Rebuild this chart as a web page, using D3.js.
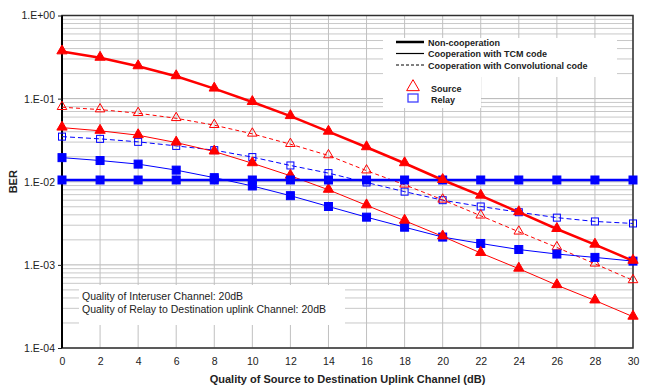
<!DOCTYPE html>
<html>
<head>
<meta charset="utf-8">
<script src="https://cdn.jsdelivr.net/npm/d3@7"></script>
<style>
  body { margin: 0; background: #fff; }
  text { font-family: "Liberation Sans", Arial, sans-serif; }
</style>
</head>
<body>
<script>
// data
var snr = [0, 2, 4, 6, 8, 10, 12, 14, 16, 18, 20, 22, 24, 26, 28, 30];
var xTicks = [0, 2, 4, 6, 8, 10, 12, 14, 16, 18, 20, 22, 24, 26, 28, 30];
var yTicks = [1, 0.1, 0.01, 0.001, 0.0001];
var yTickLabels = ["1.E+00", "1.E-01", "1.E-02", "1.E-03", "1.E-04"];

var srcNonCoop = [0.37, 0.31, 0.245, 0.186, 0.132, 0.091, 0.0616, 0.040, 0.026, 0.0167, 0.0105, 0.0068, 0.0043, 0.0027, 0.00175, 0.00112];
var relNonCoop = [0.0105, 0.0105, 0.0105, 0.0105, 0.0105, 0.0105, 0.0105, 0.0105, 0.0105, 0.0105, 0.0105, 0.0105, 0.0105, 0.0105, 0.0105, 0.0105];
var srcTcm = [0.0448, 0.041, 0.0363, 0.0296, 0.0231, 0.0167, 0.0118, 0.0080, 0.0052, 0.0034, 0.0022, 0.00139, 0.0009, 0.00057, 0.000373, 0.000238];
var relTcm = [0.0195, 0.018, 0.0163, 0.0138, 0.0112, 0.0089, 0.0068, 0.00504, 0.00375, 0.00284, 0.00216, 0.00181, 0.00153, 0.00135, 0.00123, 0.00111];
var srcConv = [0.0788, 0.0738, 0.0667, 0.058, 0.0479, 0.0377, 0.0283, 0.0207, 0.0136, 0.0092, 0.00606, 0.0039, 0.0025, 0.00162, 0.00103, 0.00065];
var relConv = [0.0349, 0.0328, 0.0302, 0.027, 0.024, 0.0198, 0.0157, 0.0127, 0.0098, 0.0076, 0.0060, 0.00504, 0.0043, 0.0037, 0.00333, 0.00315];

var lineLabels = ["Non-cooperation", "Cooperation with TCM code", "Cooperation with Convolutional code"];
var markerLabels = ["Source", "Relay"];
var noteLines = ["Quality of Interuser Channel: 20dB", "Quality of Relay to Destination uplink Channel: 20dB"];

var W = 651, H = 385;
var margin = {left: 62, right: 18, top: 15.5, bottom: 37};

var svg = d3.select("body").append("svg")
	.attr("width", W)
	.attr("height", H);

var x = d3.scaleLinear().domain([0, 30]).range([margin.left, W - margin.right]);
var y = d3.scaleLog().domain([1e-4, 1]).range([H - margin.bottom, margin.top]);

// grid
var grid = svg.append("g");
var minor = [];
for (var e = -4; e < 0; e++)
{
	for (var m = 2; m <= 9; m++) { minor.push(m * Math.pow(10, e)); }
}
grid.selectAll("line.hm")
	.data(minor).enter().append("line")
	.attr("x1", x(0)).attr("x2", x(30))
	.attr("y1", function (d) { return y(d); })
	.attr("y2", function (d) { return y(d); })
	.attr("stroke", "#c8c8c8").attr("stroke-width", 1);
grid.selectAll("line.hM")
	.data(yTicks).enter().append("line")
	.attr("x1", x(0)).attr("x2", x(30))
	.attr("y1", function (d) { return y(d); })
	.attr("y2", function (d) { return y(d); })
	.attr("stroke", "#b4b4b4").attr("stroke-width", 1);
grid.selectAll("line.v")
	.data(xTicks).enter().append("line")
	.attr("x1", function (d) { return x(d); })
	.attr("x2", function (d) { return x(d); })
	.attr("y1", y(1)).attr("y2", y(1e-4))
	.attr("stroke", "#c0c0c0").attr("stroke-width", 1);

// white boxes behind legend and note
svg.append("rect").attr("x", 383).attr("y", 38).attr("width", 234).attr("height", 39).attr("fill", "#fff");
svg.append("rect").attr("x", 383).attr("y", 77).attr("width", 98).attr("height", 31).attr("fill", "#fff");
svg.append("rect").attr("x", 79).attr("y", 285).attr("width", 266).attr("height", 40).attr("fill", "#fff");

// frame
svg.append("rect")
	.attr("x", x(0)).attr("y", y(1))
	.attr("width", x(30) - x(0)).attr("height", y(1e-4) - y(1))
	.attr("fill", "none").attr("stroke", "#303030").attr("stroke-width", 1.5);
svg.append("line")
	.attr("x1", x(0)).attr("x2", x(0)).attr("y1", y(1)).attr("y2", y(1e-4))
	.attr("stroke", "#000").attr("stroke-width", 2);

// axes
var yAxis = d3.axisLeft(y)
	.tickValues(yTicks)
	.tickFormat(function (d, i) { return yTickLabels[i]; })
	.tickSize(4).tickPadding(3);
var gy = svg.append("g").attr("transform", "translate(" + x(0) + ",0)").call(yAxis);
gy.select(".domain").remove();
gy.selectAll("text").attr("font-size", 10.5).attr("fill", "#222").attr("font-family", "Liberation Sans, Arial, sans-serif");
gy.selectAll("line").attr("stroke", "#222");

var xAxis = d3.axisBottom(x).tickValues(xTicks).tickSize(0).tickPadding(10);
var gx = svg.append("g").attr("transform", "translate(0," + y(1e-4) + ")").call(xAxis);
gx.select(".domain").remove();
gx.selectAll("text").attr("font-size", 10.5).attr("fill", "#222").attr("font-family", "Liberation Sans, Arial, sans-serif");

svg.append("text")
	.attr("x", (x(0) + x(30)) / 2).attr("y", 383)
	.attr("text-anchor", "middle")
	.attr("font-size", 11).attr("font-weight", "bold").attr("fill", "#222")
	.text("Quality of Source to Destination Uplink Channel (dB)");
svg.append("text")
	.attr("transform", "translate(17," + y(0.01) + ") rotate(-90)")
	.attr("text-anchor", "middle")
	.attr("font-size", 11).attr("font-weight", "bold").attr("fill", "#222")
	.text("BER");

// series
var series = [
	{vals: relConv, color: "#0000ff", width: 1, dash: "5,3", marker: "square", open: true},
	{vals: srcConv, color: "#ff0000", width: 1, dash: "4,3", marker: "triangle", open: true},
	{vals: relTcm, color: "#0000ff", width: 1, dash: null, marker: "square", open: false},
	{vals: srcTcm, color: "#ff0000", width: 1, dash: null, marker: "triangle", open: false},
	{vals: relNonCoop, color: "#0000ff", width: 2.5, dash: null, marker: "square", open: false},
	{vals: srcNonCoop, color: "#ff0000", width: 2.5, dash: null, marker: "triangle", open: false}
];

var line = d3.line()
	.x(function (d) { return x(d[0]); })
	.y(function (d) { return y(d[1]); });

var symTri = d3.symbol().type(d3.symbolTriangle).size(46);
var symTriOpen = d3.symbol().type(d3.symbolTriangle).size(40);

series.forEach(function (s)
{
	var pts = snr.map(function (v, i) { return [v, s.vals[i]]; });
	var g = svg.append("g");
	g.append("path")
		.attr("d", line(pts))
		.attr("fill", "none")
		.attr("stroke", s.color)
		.attr("stroke-width", s.width)
		.attr("stroke-dasharray", s.dash);

	if (s.marker == "square")
	{
		var sz = s.open ? 7 : 8;
		g.selectAll("rect").data(pts).enter().append("rect")
			.attr("x", function (d) { return x(d[0]) - sz / 2; })
			.attr("y", function (d) { return y(d[1]) - sz / 2; })
			.attr("width", sz).attr("height", sz)
			.attr("fill", s.open ? "none" : s.color)
			.attr("stroke", s.color).attr("stroke-width", 1);
	}
	else
	{
		g.selectAll("path.m").data(pts).enter().append("path")
			.attr("class", "m")
			.attr("d", s.open ? symTriOpen() : symTri())
			.attr("transform", function (d) { return "translate(" + x(d[0]) + "," + (y(d[1]) - 0.5) + ")"; })
			.attr("fill", s.open ? "none" : s.color)
			.attr("stroke", s.color).attr("stroke-width", 1);
	}
});

// legend
var lg = svg.append("g");
var lineWidths = [2.5, 1.2, 1];
var lineDash = [null, null, "3,2"];
lineLabels.forEach(function (t, i)
{
	var yy = 42 + i * 11.5;
	lg.append("line")
		.attr("x1", 396).attr("x2", 424)
		.attr("y1", yy).attr("y2", yy)
		.attr("stroke", "#000").attr("stroke-width", lineWidths[i])
		.attr("stroke-dasharray", lineDash[i]);
	lg.append("text")
		.attr("x", 428).attr("y", yy + 3.5)
		.attr("font-size", 9).attr("font-weight", "bold").attr("fill", "#222")
		.text(t);
});
lg.append("path")
	.attr("d", d3.symbol().type(d3.symbolTriangle).size(70)())
	.attr("transform", "translate(413,87)")
	.attr("fill", "none").attr("stroke", "#ff0000").attr("stroke-width", 1);
lg.append("rect")
	.attr("x", 408).attr("y", 94).attr("width", 10).attr("height", 8)
	.attr("fill", "none").attr("stroke", "#4040ff").attr("stroke-width", 1.3);
markerLabels.forEach(function (t, i)
{
	lg.append("text")
		.attr("x", 431).attr("y", 91.5 + i * 11)
		.attr("font-size", 9).attr("font-weight", "bold").attr("fill", "#222")
		.text(t);
});

// note
noteLines.forEach(function (t, i)
{
	svg.append("text")
		.attr("x", 82).attr("y", 300 + i * 12.8)
		.attr("font-size", 10.5).attr("fill", "#222")
		.text(t);
});
</script>
</body>
</html>
